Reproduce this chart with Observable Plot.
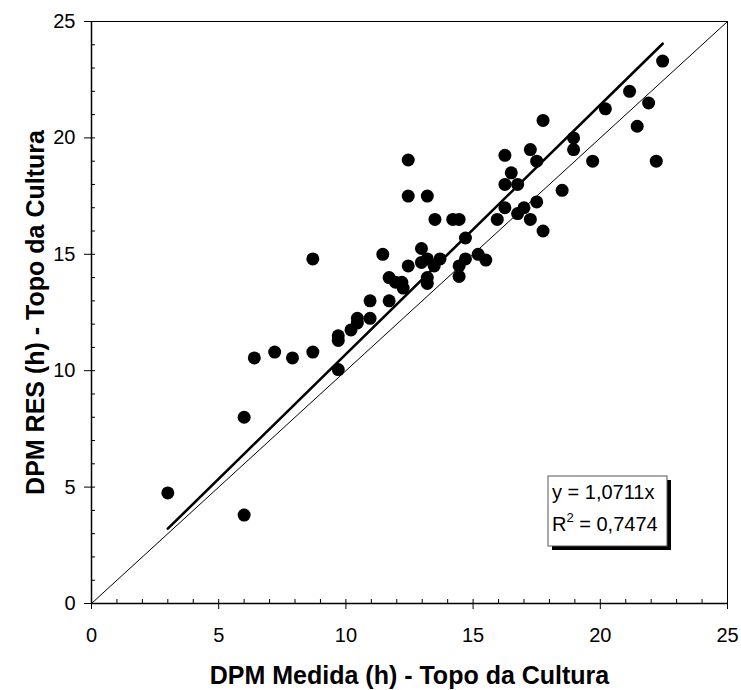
<!DOCTYPE html>
<html>
<head>
<meta charset="utf-8">
<script src="https://cdn.jsdelivr.net/npm/d3@7"></script>
<script src="https://cdn.jsdelivr.net/npm/@observablehq/plot@0.6"></script>
<style>
  body { margin: 0; background: #fff; }
  #chart { width: 741px; height: 690px; }
</style>
</head>
<body>
<div id="chart"></div>
<script>
// Measured leaf-wetness duration (h) at the canopy top
const measured = [
  3.0, 6.0, 6.0, 6.4, 7.2, 7.9, 8.7, 8.7, 9.7, 9.7, 9.7,
  10.2, 10.45, 10.45, 10.95, 10.95, 11.45, 11.7, 11.7, 11.95, 12.2, 12.25,
  12.45, 12.45, 12.45, 12.97, 12.97, 13.2, 13.2, 13.2, 13.2, 13.47, 13.5,
  13.7, 14.2, 14.45, 14.45, 14.45, 14.7, 14.7, 15.2, 15.5, 15.95, 16.25,
  16.25, 16.25, 16.5, 16.75, 16.75, 17.0, 17.25, 17.25, 17.5, 17.5, 17.75,
  17.75, 18.5, 18.95, 18.95, 19.7, 20.2, 21.15, 21.45, 21.9, 22.2, 22.45
];
// Leaf-wetness duration (h) estimated by the RES model
const estimated = [
  4.75, 3.8, 8.0, 10.55, 10.8, 10.55, 10.8, 14.8, 10.05, 11.3, 11.5,
  11.75, 12.05, 12.25, 12.25, 13.0, 15.0, 13.0, 14.0, 13.8, 13.8, 13.55,
  14.5, 17.5, 19.05, 14.65, 15.25, 13.75, 14.0, 14.8, 17.5, 14.5, 16.5,
  14.8, 16.5, 14.05, 14.5, 16.5, 14.8, 15.7, 15.0, 14.75, 16.5, 17.0,
  18.0, 19.25, 18.5, 16.75, 18.0, 17.0, 16.5, 19.5, 17.25, 19.0, 16.0,
  20.75, 17.75, 19.5, 20.0, 19.0, 21.25, 22.0, 20.5, 21.5, 19.0, 23.3
];

// Trendline through the origin and its fit statistics
const slope = 1.0711;
const slopeLabel = "1,0711";
const r2Label = "0,7474";

const majorTicks = [0, 5, 10, 15, 20, 25];
const minorTicks = d3.range(0, 26);
const xTitle = "DPM Medida (h) - Topo da Cultura";
const yTitle = "DPM RES (h) - Topo da Cultura";

const points = measured.map((x, i) => ({x, y: estimated[i]}));
const [xMin, xMax] = d3.extent(measured);
const trend = [xMin, xMax].map(x => ({x, y: slope * x}));
const identity = [0, 25].map(v => ({x: v, y: v}));

const font = "'Liberation Sans', Arial, sans-serif";

// Equation box with a drop shadow, anchored to the lower-right of the frame
function equationBox(index, scales, values, dim) {
  const right = dim.width - dim.marginRight - 60;
  const bottom = dim.height - dim.marginBottom - 57;
  const w = 119, h = 70, left = right - w, top = bottom - h;
  const g = d3.create("svg:g")
    .attr("font-family", font)
    .attr("font-size", 20)
    .attr("text-anchor", "start");
  g.append("rect").attr("x", left + 4).attr("y", top + 4).attr("width", w).attr("height", h).attr("fill", "#000");
  g.append("rect").attr("x", left).attr("y", top).attr("width", w).attr("height", h)
    .attr("fill", "#fff").attr("stroke", "#555").attr("stroke-width", 1);
  g.append("text").attr("x", left + 4).attr("y", top + 23).text(`y = ${slopeLabel}x`);
  const t = g.append("text").attr("x", left + 4).attr("y", top + 55);
  t.append("tspan").text("R");
  t.append("tspan").attr("font-size", 13).attr("dy", -9).text("2");
  t.append("tspan").attr("dy", 9).text(` = ${r2Label}`);
  return g.node();
}

const chart = Plot.plot({
  width: 741,
  height: 690,
  marginLeft: 91,
  marginRight: 14,
  marginTop: 21,
  marginBottom: 87,
  style: {fontFamily: font, color: "#000", background: "#fff"},
  x: {domain: [0, 25]},
  y: {domain: [0, 25]},
  marks: [
    Plot.frame({stroke: "#000", strokeWidth: 1}),
    Plot.ruleX([0], {strokeWidth: 1.5}),
    Plot.ruleY([0], {strokeWidth: 1.5}),
    // 1:1 reference line
    Plot.line(identity, {x: "x", y: "y", stroke: "#000", strokeWidth: 1}),
    // fitted trendline
    Plot.line(trend, {x: "x", y: "y", stroke: "#000", strokeWidth: 2.6}),
    Plot.dot(points, {x: "x", y: "y", r: 6.5, fill: "#000"}),
    // minor ticks pointing into the frame
    Plot.axisX({ticks: minorTicks, tickSize: -4, tickFormat: () => "", label: null}),
    Plot.axisY({ticks: minorTicks, tickSize: -4, tickFormat: () => "", label: null}),
    // major ticks and labels
    Plot.axisX({ticks: majorTicks, tickSize: 6, tickPadding: 18, fontSize: 20, label: null}),
    Plot.axisY({ticks: majorTicks, tickSize: 7, tickPadding: 9, fontSize: 20, label: null}),
    Plot.text([xTitle], {frameAnchor: "bottom", dy: 72, fontSize: 25, fontWeight: "bold", textAnchor: "middle", lineAnchor: "middle"}),
    Plot.text([yTitle], {frameAnchor: "left", dx: -56, rotate: -90, fontSize: 25, fontWeight: "bold", textAnchor: "middle", lineAnchor: "middle"}),
    equationBox
  ]
});

document.getElementById("chart").appendChild(chart);
</script>
</body>
</html>
